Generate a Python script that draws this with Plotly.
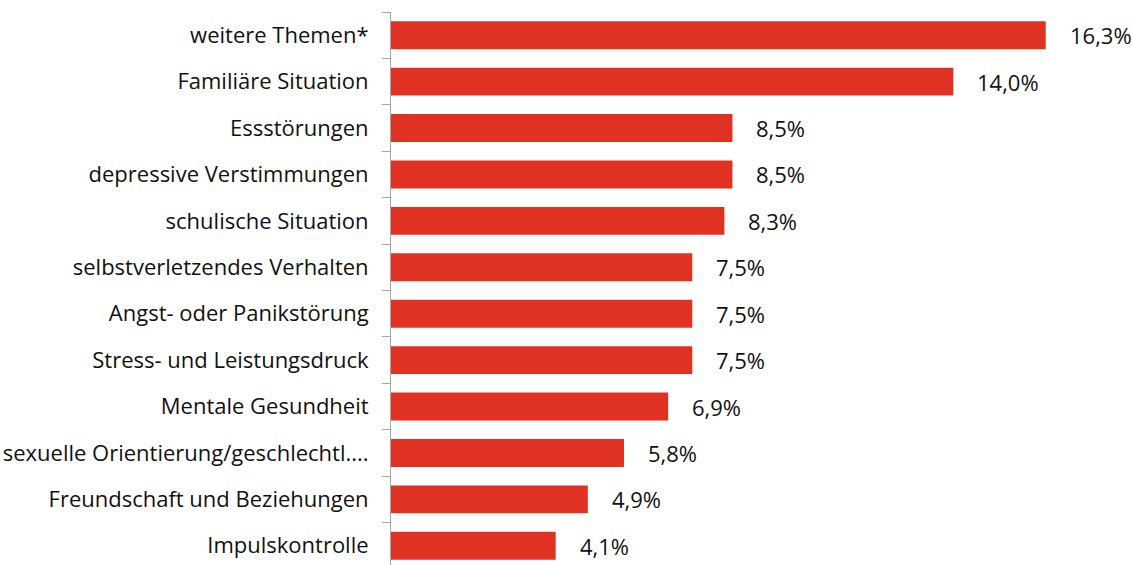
import plotly.graph_objects as go

categories = [
    "weitere Themen*",
    "Familiäre Situation",
    "Essstörungen",
    "depressive Verstimmungen",
    "schulische Situation",
    "selbstverletzendes Verhalten",
    "Angst- oder Panikstörung",
    "Stress- und Leistungsdruck",
    "Mentale Gesundheit",
    "sexuelle Orientierung/geschlechtl....",
    "Freundschaft und Beziehungen",
    "Impulskontrolle",
]
values = [16.3, 14.0, 8.5, 8.5, 8.3, 7.5, 7.5, 7.5, 6.9, 5.8, 4.9, 4.1]
value_labels = [f"{v:.1f}%".replace(".", ",") for v in values]

cats = categories[::-1]
vals = values[::-1]
labs = value_labels[::-1]

FONT = "Open Sans"
FS = 22

fig = go.Figure()
fig.add_trace(go.Bar(
    x=vals, y=cats, orientation="h",
    marker=dict(color="#E03222", line=dict(width=0)),
    width=0.6, hoverinfo="skip",
))

for c, v, t in zip(cats, vals, labs):
    fig.add_annotation(x=v, y=c, text=t, showarrow=False, xanchor="left",
                       xshift=22, font=dict(family=FONT, size=FS, color="#111111"))

fig.update_layout(
    width=1132, height=565,
    margin=dict(l=391, r=18, t=12, b=0, autoexpand=False),
    paper_bgcolor="white", plot_bgcolor="white",
    showlegend=False,
    bargap=0.4,
    xaxis=dict(range=[0, 18], visible=False),
    yaxis=dict(
        type="category", categoryorder="array", categoryarray=cats,
        range=[-0.414, 11.5],
        showline=True, linecolor="#A6A6A6", linewidth=1,
        ticks="outside", tickson="boundaries", ticklen=8, tickcolor="#A6A6A6",
        ticklabelstandoff=17,
        tickfont=dict(family=FONT, size=FS, color="#111111"),
        showgrid=False, zeroline=False, automargin=False,
    ),
)

fig.write_html(
    "out.html",
    config={"displayModeBar": False},
    post_script="document.body.style.margin='0';document.body.style.overflow='hidden';",
)
